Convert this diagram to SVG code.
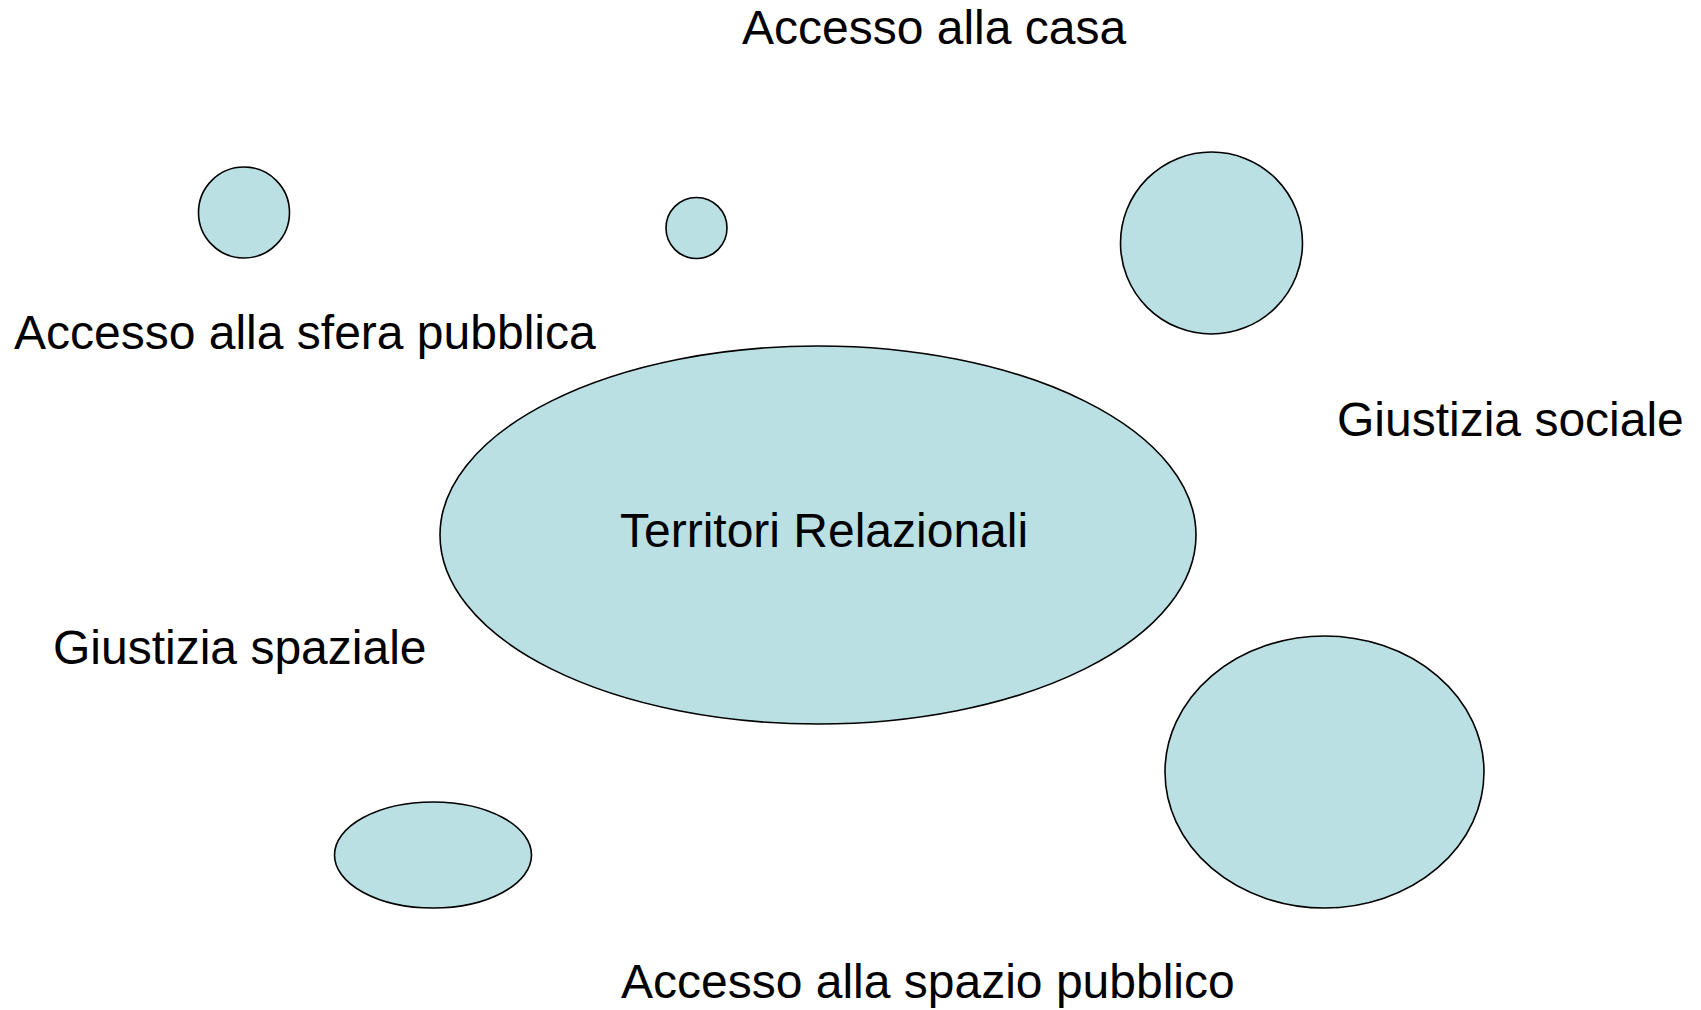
<svg xmlns="http://www.w3.org/2000/svg" width="1701" height="1010" viewBox="0 0 1701 1010">
<style>
.n{fill:#BAE0E3;stroke:#000;stroke-width:1.6}
.t{font-family:"Liberation Sans",Arial,sans-serif;font-size:48px;fill:#000}
</style>
<rect width="1701" height="1010" fill="#fff"/>
<g id="connectors"></g>
<g id="n-center"><ellipse class="n" cx="818" cy="535" rx="378" ry="189"/><text class="t" x="620" y="547">Territori Relazionali</text></g>
<g id="n-c1"><circle class="n" cx="244" cy="212.5" r="45.5"/></g>
<g id="n-c2"><circle class="n" cx="696.5" cy="228" r="30.5"/></g>
<g id="n-c3"><circle class="n" cx="1211.5" cy="243" r="91"/></g>
<g id="n-e1"><ellipse class="n" cx="433" cy="855" rx="98.5" ry="53"/></g>
<g id="n-e2"><ellipse class="n" cx="1324.5" cy="772" rx="159.5" ry="136"/></g>
<g id="l-casa"><text class="t" x="742" y="44">Accesso alla casa</text></g>
<g id="l-sfera"><text class="t" x="14" y="349">Accesso alla sfera pubblica</text></g>
<g id="l-sociale"><text class="t" x="1337" y="436">Giustizia sociale</text></g>
<g id="l-spaziale"><text class="t" x="53" y="664">Giustizia spaziale</text></g>
<g id="l-spazio"><text class="t" x="621" y="998">Accesso alla spazio pubblico</text></g>
</svg>
